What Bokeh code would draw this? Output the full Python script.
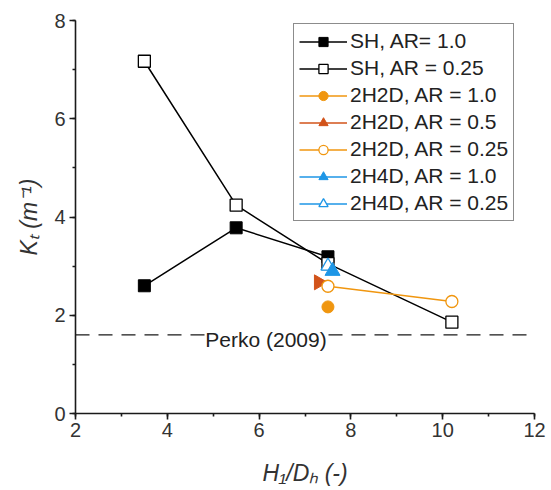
from bokeh.plotting import figure
from bokeh.models import Range1d, SingleIntervalTicker, Legend, LegendItem, Label
from bokeh.embed import file_html
from bokeh.resources import INLINE

# ---- data ----
sh_ar1_x = [3.5, 5.5, 7.5]
sh_ar1_y = [2.6, 3.78, 3.19]
sh_ar025_x = [3.5, 5.5, 7.5, 10.2]
sh_ar025_y = [7.17, 4.24, 3.05, 1.86]
h2d_ar1_x = [7.5]
h2d_ar1_y = [2.17]
h2d_ar05_x = [7.3]
h2d_ar05_y = [2.67]
h2d_ar025_x = [7.5, 10.2]
h2d_ar025_y = [2.59, 2.28]
h4d_ar1_x = [7.6]
h4d_ar1_y = [2.9]
h4d_ar025_x = [7.5]
h4d_ar025_y = [3.0]
perko_value = 1.6
perko_label = "Perko (2009)"
perko_label_x = 6.15
perko_label_y = 1.5

x_ticks = [2, 4, 6, 8, 10, 12]
y_ticks = [0, 2, 4, 6, 8]

FONT = "Liberation Sans"
ORANGE = "#F0960F"
RED = "#D2531A"
BLUE = "#1E96E6"

p = figure(width=551, height=490, output_backend="svg", toolbar_location=None,
           x_range=Range1d(2, 12), y_range=Range1d(0, 8),
           min_border_left=75, min_border_right=17, min_border_top=20, min_border_bottom=77)
p.outline_line_color = None
p.grid.visible = False
p.background_fill_color = "white"
p.border_fill_color = "white"

for ax in (p.xaxis, p.yaxis):
    ax.ticker = SingleIntervalTicker(interval=2, num_minor_ticks=2)
    ax.axis_line_color = "#1a1a1a"
    ax.axis_line_width = 1.6
    ax.major_tick_line_color = "#1a1a1a"
    ax.major_tick_line_width = 1.6
    ax.major_tick_out = 6
    ax.major_tick_in = 0
    ax.minor_tick_line_color = "#1a1a1a"
    ax.minor_tick_line_width = 1.6
    ax.minor_tick_out = 3
    ax.minor_tick_in = 0
    ax.major_label_text_font = FONT
    ax.major_label_text_font_size = "20px"
    ax.major_label_text_color = "#333333"
    ax.axis_label_text_font = FONT
    ax.axis_label_text_font_size = "23px"
    ax.axis_label_text_font_style = "italic"
    ax.axis_label_text_color = "#333333"

p.xaxis.axis_label = "H\u2081/D\u2095 (-)"
p.yaxis.axis_label = "K\u209c (m\u207b\u00b9)"
p.yaxis.major_label_standoff = 4
p.xaxis.major_label_standoff = 3
p.yaxis.axis_label_standoff = 9
p.xaxis.axis_label_standoff = 20

# Perko reference line
p.line([2, 12], [perko_value, perko_value], line_color="#1a1a1a", line_width=1.3, line_dash="14 9")
p.add_layout(Label(x=perko_label_x, y=perko_label_y, text=perko_label, text_align="center",
                   text_baseline="middle", text_font=FONT, text_font_size="21px",
                   text_color="#222222", background_fill_color="white"))

ms = 12
l1 = p.line(sh_ar1_x, sh_ar1_y, line_color="black", line_width=1.5)
s1 = p.scatter(sh_ar1_x, sh_ar1_y, marker="square", size=ms, fill_color="black", line_color="black")
l2 = p.line(sh_ar025_x, sh_ar025_y, line_color="black", line_width=1.5)
s2 = p.scatter(sh_ar025_x, sh_ar025_y, marker="square", size=ms, fill_color="white", line_color="black", line_width=1.3)
l3 = p.line(h2d_ar1_x, h2d_ar1_y, line_color=ORANGE, line_width=1.5)
s3 = p.scatter(h2d_ar1_x, h2d_ar1_y, marker="circle", size=ms, fill_color=ORANGE, line_color=ORANGE)
l4 = p.line(h2d_ar05_x, h2d_ar05_y, line_color=RED, line_width=1.5)
s4 = p.scatter(h2d_ar05_x, h2d_ar05_y, marker="triangle", angle=-1.5708, size=15, fill_color=RED, line_color=RED)
l5 = p.line(h2d_ar025_x, h2d_ar025_y, line_color=ORANGE, line_width=1.5)
s5 = p.scatter(h2d_ar025_x, h2d_ar025_y, marker="circle", size=ms, fill_color="white", line_color=ORANGE, line_width=1.3)
l7 = p.line(h4d_ar025_x, h4d_ar025_y, line_color=BLUE, line_width=1.5)
s7 = p.scatter(h4d_ar025_x, h4d_ar025_y, marker="triangle", size=14, fill_color="white", line_color=BLUE, line_width=1.3)
l6 = p.line(h4d_ar1_x, h4d_ar1_y, line_color=BLUE, line_width=1.5)
s6 = p.scatter(h4d_ar1_x, h4d_ar1_y, marker="triangle", size=15, fill_color=BLUE, line_color=BLUE)

legend = Legend(items=[
    LegendItem(label="SH, AR= 1.0", renderers=[l1, s1]),
    LegendItem(label="SH, AR = 0.25", renderers=[l2, s2]),
    LegendItem(label="2H2D, AR = 1.0", renderers=[l3, s3]),
    LegendItem(label="2H2D, AR = 0.5", renderers=[l4, s4]),
    LegendItem(label="2H2D, AR = 0.25", renderers=[l5, s5]),
    LegendItem(label="2H4D, AR = 1.0", renderers=[l6, s6]),
    LegendItem(label="2H4D, AR = 0.25", renderers=[l7, s7]),
], location=(218, 192))
legend.label_text_font = FONT
legend.label_text_font_size = "21px"
legend.label_text_color = "#222222"
legend.glyph_width = 48
legend.glyph_height = 23
legend.label_height = 23
legend.spacing = 3
legend.padding = 5
legend.margin = 0
legend.label_standoff = 3
legend.border_line_color = "#1a1a1a"
legend.border_line_width = 1.5
legend.background_fill_color = "white"
legend.background_fill_alpha = 1
p.add_layout(legend)

open("out.html", "w").write(file_html(p, INLINE))
